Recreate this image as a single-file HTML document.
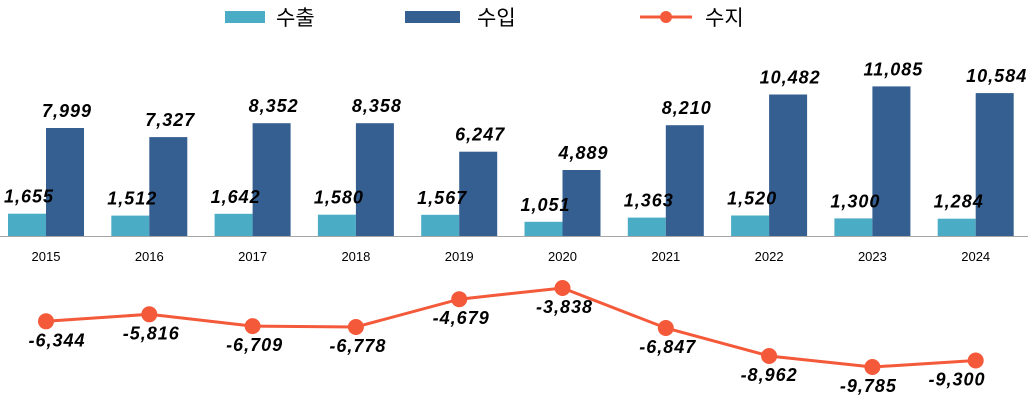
<!DOCTYPE html>
<html><head><meta charset="utf-8"><style>
html,body{margin:0;padding:0;background:#fff;}
svg{display:block;font-family:"Liberation Sans","Noto Sans CJK KR",sans-serif;}
.v{font-size:18px;font-weight:bold;font-style:italic;fill:#000;letter-spacing:1px;}
.y{font-size:13px;fill:#000;}
.l{font-size:21px;fill:#000;}
</style></head><body>
<svg width="1031" height="403" viewBox="0 0 1031 403" xmlns="http://www.w3.org/2000/svg">
<rect x="225" y="11" width="40" height="12" fill="#4bacc6"/>
<text class="l" x="276" y="25">수출</text>
<rect x="405" y="11" width="55" height="12" fill="#355f91"/>
<text class="l" x="477" y="25">수입</text>
<line x1="640" y1="17" x2="692" y2="17" stroke="#f4593a" stroke-width="3"/>
<circle cx="666" cy="17" r="6" fill="#f4593a"/>
<text class="l" x="705" y="25">수지</text>

<g fill="#4bacc6">
<rect x="8" y="213.7" width="38" height="22.3"/>
<rect x="111.3" y="215.6" width="38" height="20.4"/>
<rect x="214.6" y="213.8" width="38" height="22.2"/>
<rect x="317.9" y="214.7" width="38" height="21.3"/>
<rect x="421.2" y="214.8" width="38" height="21.2"/>
<rect x="524.5" y="221.8" width="38" height="14.2"/>
<rect x="627.8" y="217.6" width="38" height="18.4"/>
<rect x="731.1" y="215.5" width="38" height="20.5"/>
<rect x="834.4" y="218.4" width="38" height="17.6"/>
<rect x="937.7" y="218.7" width="38" height="17.3"/>
</g>
<g fill="#355f91">
<rect x="46" y="128" width="38" height="108"/>
<rect x="149.3" y="137.1" width="38" height="98.9"/>
<rect x="252.6" y="123.2" width="38" height="112.8"/>
<rect x="355.9" y="123.2" width="38" height="112.8"/>
<rect x="459.2" y="151.7" width="38" height="84.3"/>
<rect x="562.5" y="170" width="38" height="66"/>
<rect x="665.8" y="125.2" width="38" height="110.8"/>
<rect x="769.1" y="94.5" width="38" height="141.5"/>
<rect x="872.4" y="86.4" width="38" height="149.6"/>
<rect x="975.7" y="93.1" width="38" height="142.9"/>
</g>
<g class="v" text-anchor="middle">
<text x="29" y="202.7">1,655</text>
<text x="132.3" y="204.6">1,512</text>
<text x="235.6" y="202.8">1,642</text>
<text x="338.9" y="203.7">1,580</text>
<text x="442.2" y="203.8">1,567</text>
<text x="545.5" y="210.8">1,051</text>
<text x="648.8" y="206.6">1,363</text>
<text x="752.1" y="204.5">1,520</text>
<text x="855.4" y="207.4">1,300</text>
<text x="958.7" y="207.7">1,284</text>
<text x="67" y="117">7,999</text>
<text x="170.3" y="126.1">7,327</text>
<text x="273.6" y="112.2">8,352</text>
<text x="376.9" y="112.2">8,358</text>
<text x="480.2" y="140.7">6,247</text>
<text x="583.5" y="159">4,889</text>
<text x="686.8" y="114.2">8,210</text>
<text x="790.1" y="83.5">10,482</text>
<text x="893.4" y="75.4">11,085</text>
<text x="996.7" y="82.1">10,584</text>
</g>
<line x1="0" y1="236.5" x2="1028" y2="236.5" stroke="#a6a6a6" stroke-width="1"/>
<g class="y" text-anchor="middle">
<text x="46" y="261">2015</text>
<text x="149.3" y="261">2016</text>
<text x="252.6" y="261">2017</text>
<text x="355.9" y="261">2018</text>
<text x="459.2" y="261">2019</text>
<text x="562.5" y="261">2020</text>
<text x="665.8" y="261">2021</text>
<text x="769.1" y="261">2022</text>
<text x="872.4" y="261">2023</text>
<text x="975.7" y="261">2024</text>
</g>
<polyline points="46,321.3 149.3,314.3 252.6,326.1 355.9,327 459.2,299.2 562.5,288 665.8,328 769.1,356 872.4,367 975.7,360.5" fill="none" stroke="#f4593a" stroke-width="3"/>
<g fill="#f4593a">
<circle cx="46" cy="321.3" r="8"/>
<circle cx="149.3" cy="314.3" r="8"/>
<circle cx="252.6" cy="326.1" r="8"/>
<circle cx="355.9" cy="327" r="8"/>
<circle cx="459.2" cy="299.2" r="8"/>
<circle cx="562.5" cy="288" r="8"/>
<circle cx="665.8" cy="328" r="8"/>
<circle cx="769.1" cy="356" r="8"/>
<circle cx="872.4" cy="367" r="8"/>
<circle cx="975.7" cy="360.5" r="8"/>
</g>
<g class="v" text-anchor="middle">
<text x="57" y="346.3">-6,344</text>
<text x="151.3" y="339.3">-5,816</text>
<text x="254.6" y="351.1">-6,709</text>
<text x="357.9" y="352">-6,778</text>
<text x="461.2" y="324.2">-4,679</text>
<text x="564.5" y="313">-3,838</text>
<text x="667.8" y="353">-6,847</text>
<text x="769.1" y="381">-8,962</text>
<text x="868.4" y="392">-9,785</text>
<text x="957" y="385.5">-9,300</text>
</g>
</svg>
</body></html>
